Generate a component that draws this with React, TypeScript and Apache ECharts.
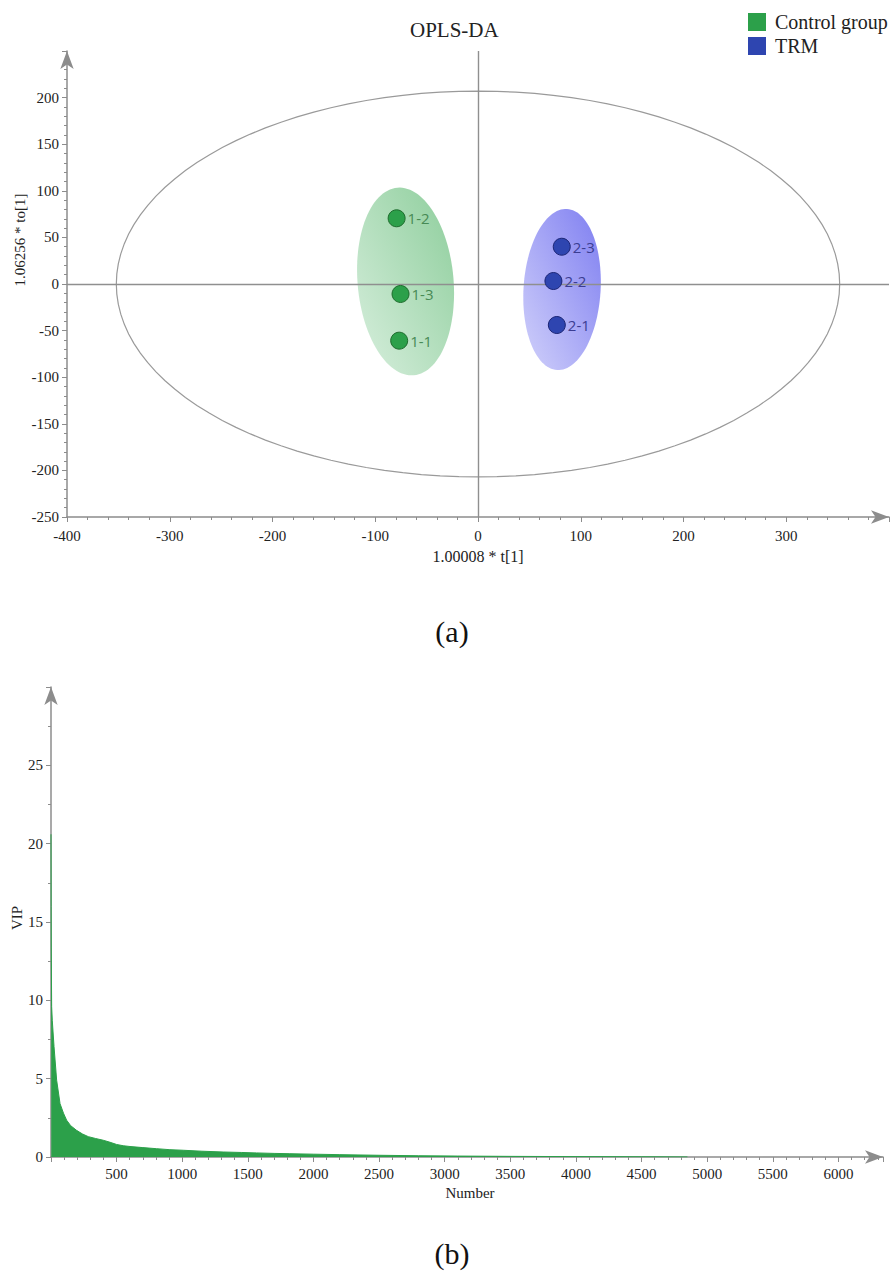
import React, { useEffect, useRef } from "react";
import * as echarts from "echarts";

// ---- Panel (a): OPLS-DA scores ----
const sampleControl = ["1-1", "1-2", "1-3"];
const controlT = [-76.7, -79.2, -75.4];
const controlTo = [-60.8, 70.5, -10.7];
const sampleTRM = ["2-1", "2-2", "2-3"];
const trmT = [76.7, 73.4, 81.5];
const trmTo = [-44.0, 3.2, 40.0];
// ellipses: [centre t, centre to, semi-axis t, semi-axis to, tilt deg]
const hotellingEllipse = [0, 0, 352, 207, 0];
const controlEllipse = [-70.5, 2.7, 46.7, 101, 5];
const trmEllipse = [81.8, -5.9, 37.5, 86.6, -3.5];
const xTicksA = { min: -400, max: 400, interval: 100 };
const yTicksA = { min: -250, max: 250, interval: 50 };

// ---- Panel (b): VIP values (sorted, read at points) ----
const vipIndex = [0, 1, 2, 5, 10, 23, 43, 69, 95, 119, 150, 195, 240, 284, 340, 398, 450, 500, 550, 602, 700, 805, 900, 1008, 1150, 1312, 1450, 1566, 1700, 1820, 2000, 2201, 2500, 2800, 3100, 3500, 4000, 4500, 4850];
const vipValue = [20.6, 16.0, 13.4, 9.6, 8.7, 7.05, 4.9, 3.4, 2.8, 2.35, 2.0, 1.7, 1.47, 1.3, 1.18, 1.07, 0.94, 0.8, 0.72, 0.67, 0.6, 0.53, 0.47, 0.43, 0.37, 0.32, 0.29, 0.26, 0.23, 0.21, 0.18, 0.15, 0.11, 0.08, 0.06, 0.04, 0.025, 0.015, 0.005];
const xTicksB = { min: 0, max: 6340, interval: 500 };
const yTicksB = { min: 0, max: 30, interval: 5 };

const SERIF = "'Liberation Serif', 'Times New Roman', serif";
const SANS = "'Open Sans', 'Noto Sans', sans-serif";
const AXIS_GRAY = "#8c8c8c";
const GREEN = "#2ca04a";
const BLUE = "#2e45b0";

function ellipseRender(fill: any, stroke: string | null, lineWidth: number) {
  return (params: any, api: any) => {
    const c = api.coord([api.value(0), api.value(1)]);
    const s = api.size([api.value(2), api.value(3)]);
    const tilt = (api.value(4) * Math.PI) / 180;
    const pts: number[][] = [];
    const n = 120;
    for (let i = 0; i < n; i++) {
      const a = (i / n) * Math.PI * 2;
      const ex = s[0] * Math.cos(a);
      const ey = s[1] * Math.sin(a);
      const px = ex * Math.cos(tilt) - ey * Math.sin(tilt);
      const py = ex * Math.sin(tilt) + ey * Math.cos(tilt);
      pts.push([c[0] + px, c[1] - py]);
    }
    return {
      type: "polygon",
      shape: { points: pts },
      style: { fill: fill || "none", stroke: stroke || "none", lineWidth },
      silent: true,
    };
  };
}

function axisCommon(extra: any) {
  return {
    axisLine: {
      show: true,
      onZero: false,
      symbol: ["none", "arrow"],
      symbolSize: [10, 18],
      lineStyle: { color: AXIS_GRAY, width: 1.5 },
    },
    axisTick: { show: true, length: 5, lineStyle: { color: AXIS_GRAY, width: 1 } },
    splitLine: { show: false },
    ...extra,
  };
}

const labelStyle = (margin: number, hideZero = false) => ({
  color: "#222",
  fontFamily: SERIF,
  fontSize: 15,
  margin,
  showMaxLabel: false,
  formatter: (v: number) => (hideZero && v === 0 ? "" : String(v)),
});

export default function App() {
  const ref = useRef<HTMLDivElement>(null);
  useEffect(() => {
    if (!ref.current) return;
    const chart = echarts.init(ref.current, undefined, { renderer: "svg" });
    const option: any = {
      animation: false,
      backgroundColor: "#fff",
      title: {
        text: "OPLS-DA",
        left: 410,
        top: 19,
        padding: 0,
        textStyle: { fontFamily: SERIF, fontSize: 21, fontWeight: "normal", color: "#222" },
      },
      legend: {
        orient: "vertical",
        left: 748,
        top: 12,
        padding: 0,
        itemWidth: 18,
        itemHeight: 18,
        itemGap: 4,
        icon: "rect",
        itemStyle: { borderWidth: 0 },
        data: ["Control group", "TRM"],
        textStyle: { fontFamily: SERIF, fontSize: 20, color: "#222", padding: [2, 0, 0, 4] },
      },
      grid: [
        { left: 67, top: 51, width: 822, height: 466 },
        { left: 51, top: 687, width: 832, height: 470 },
      ],
      xAxis: [
        axisCommon({
          type: "value",
          gridIndex: 0,
          ...xTicksA,
          minorTick: { show: true, splitNumber: 5, length: 3, lineStyle: { color: AXIS_GRAY } },
          axisLabel: labelStyle(11),
        }),
        axisCommon({
          type: "value",
          gridIndex: 1,
          ...xTicksB,
          minorTick: { show: true, splitNumber: 5, length: 3, lineStyle: { color: AXIS_GRAY } },
          axisLabel: labelStyle(9, true),
        }),
      ],
      yAxis: [
        axisCommon({
          type: "value",
          gridIndex: 0,
          ...yTicksA,
          minorTick: { show: true, splitNumber: 5, length: 3, lineStyle: { color: AXIS_GRAY } },
          axisLabel: labelStyle(8),
        }),
        axisCommon({
          type: "value",
          gridIndex: 1,
          ...yTicksB,
          minorTick: { show: true, splitNumber: 2, length: 3, lineStyle: { color: AXIS_GRAY } },
          axisLabel: labelStyle(8),
        }),
      ],
      graphic: [
        {
          type: "text",
          x: 478,
          y: 556,
          style: { text: "1.00008 * t[1]", fontFamily: SERIF, fontSize: 16, fill: "#222", align: "center", verticalAlign: "middle" },
        },
        {
          type: "text",
          x: 20,
          y: 240,
          rotation: Math.PI / 2,
          style: { text: "1.06256 * to[1]", fontFamily: SERIF, fontSize: 15, fill: "#222", align: "center", verticalAlign: "middle" },
        },
        {
          type: "text",
          x: 452,
          y: 631,
          style: { text: "(a)", fontFamily: SERIF, fontSize: 30, fill: "#111", align: "center", verticalAlign: "middle" },
        },
        {
          type: "text",
          x: 470,
          y: 1193,
          style: { text: "Number", fontFamily: SERIF, fontSize: 15, fill: "#222", align: "center", verticalAlign: "middle" },
        },
        {
          type: "text",
          x: 17,
          y: 918,
          rotation: Math.PI / 2,
          style: { text: "VIP", fontFamily: SERIF, fontSize: 15, fill: "#222", align: "center", verticalAlign: "middle" },
        },
        {
          type: "text",
          x: 452,
          y: 1253,
          style: { text: "(b)", fontFamily: SERIF, fontSize: 30, fill: "#111", align: "center", verticalAlign: "middle" },
        },
      ],
      series: [
        {
          type: "custom",
          name: "T2",
          xAxisIndex: 0,
          yAxisIndex: 0,
          renderItem: ellipseRender(null, "#9a9a9a", 1.2),
          data: [hotellingEllipse],
          silent: true,
          z: 1,
        },
        {
          type: "custom",
          name: "controlEllipse",
          xAxisIndex: 0,
          yAxisIndex: 0,
          renderItem: ellipseRender(
            new echarts.graphic.LinearGradient(0, 1, 1, 0, [
              { offset: 0, color: "rgba(214,238,220,0.95)" },
              { offset: 1, color: "rgba(135,203,150,0.95)" },
            ]),
            null,
            0
          ),
          data: [controlEllipse],
          silent: true,
          z: 2,
        },
        {
          type: "custom",
          name: "trmEllipse",
          xAxisIndex: 0,
          yAxisIndex: 0,
          renderItem: ellipseRender(
            new echarts.graphic.LinearGradient(0, 1, 1, 0, [
              { offset: 0, color: "rgba(206,206,250,0.95)" },
              { offset: 1, color: "rgba(120,120,240,0.95)" },
            ]),
            null,
            0
          ),
          data: [trmEllipse],
          silent: true,
          z: 2,
        },
        {
          type: "scatter",
          name: "Control group",
          xAxisIndex: 0,
          yAxisIndex: 0,
          symbolSize: 17,
          itemStyle: { color: GREEN, borderColor: "#1d6b2c", borderWidth: 1, opacity: 1 },
          label: {
            show: true,
            position: "right",
            distance: 2,
            formatter: (p: any) => p.name,
            fontFamily: SANS,
            fontSize: 15,
            color: "#478a55",
          },
          data: sampleControl.map((n, i) => ({ name: n, value: [controlT[i], controlTo[i]] })),
          markLine: {
            silent: true,
            symbol: ["none", "none"],
            label: { show: false },
            lineStyle: { color: "#8f8f8f", type: "solid", width: 1.4 },
            data: [{ xAxis: 0 }, { yAxis: 0 }],
          },
          z: 5,
        },
        {
          type: "scatter",
          name: "TRM",
          xAxisIndex: 0,
          yAxisIndex: 0,
          symbolSize: 17,
          itemStyle: { color: BLUE, borderColor: "#1b2575", borderWidth: 1, opacity: 1 },
          label: {
            show: true,
            position: "right",
            distance: 2,
            formatter: (p: any) => p.name,
            fontFamily: SANS,
            fontSize: 15,
            color: "#3b3d92",
          },
          data: sampleTRM.map((n, i) => ({ name: n, value: [trmT[i], trmTo[i]] })),
          z: 5,
        },
        {
          type: "line",
          name: "VIP",
          xAxisIndex: 1,
          yAxisIndex: 1,
          showSymbol: false,
          symbol: "none",
          lineStyle: { color: GREEN, width: 1 },
          areaStyle: { color: GREEN, opacity: 1 },
          data: vipIndex.map((x, i) => [x, vipValue[i]]),
          z: 1,
        },
      ],
    };
    chart.setOption(option);
    return () => chart.dispose();
  }, []);
  return (
    <div
      ref={ref}
      style={{ position: "absolute", left: 0, top: 0, width: 895, height: 1274, background: "#fff" }}
    />
  );
}
